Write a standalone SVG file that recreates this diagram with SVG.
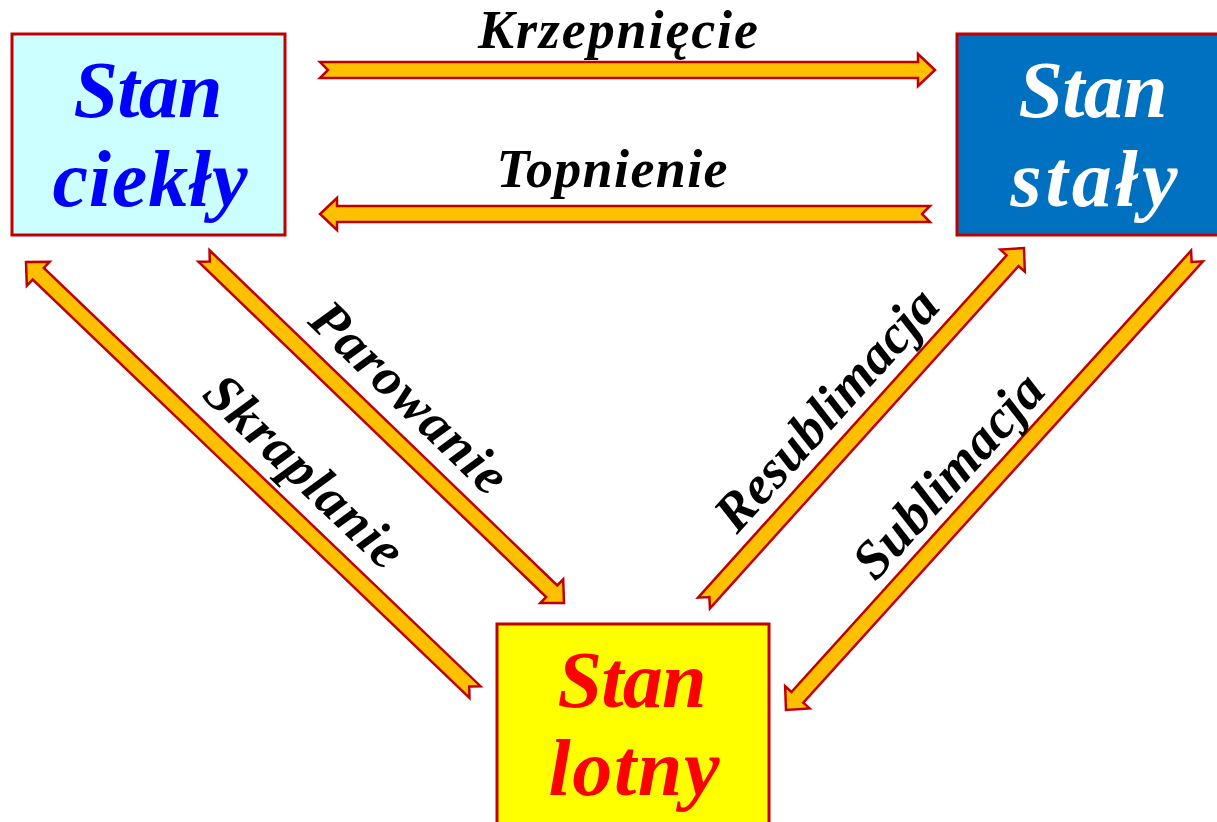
<svg xmlns="http://www.w3.org/2000/svg" width="1217" height="822" viewBox="0 0 1217 822">
<style>
.box{stroke:#C00000;stroke-width:3}
.arr{fill:#FFC000;stroke:#C00000;stroke-width:2.5;stroke-linejoin:miter}
.big{font-family:"Liberation Serif",serif;font-weight:bold;font-style:italic;font-size:80px;text-anchor:middle}
.lbl{font-family:"Liberation Serif",serif;font-weight:bold;font-style:italic;font-size:54px;text-anchor:middle;fill:#000}
</style>
<rect width="1217" height="822" fill="#fff"/>
<g id="connectors">
<polygon class="arr" transform="translate(320,70)" points="0,-8 598,-8 598,-16 615,0 598,16 598,8 0,8 8,0"/>
<polygon class="arr" transform="translate(930,214) rotate(180)" points="0,-8 593,-8 593,-16 610,0 593,16 593,8 0,8 8,0"/>
<polygon class="arr" transform="translate(475,692) rotate(223.76)" points="0,-8 604.7,-8 604.7,-16.5 621.7,0 604.7,16.5 604.7,8 0,8 8,0"/>
<polygon class="arr" transform="translate(204,256) rotate(43.95)" points="0,-8 483,-8 483,-16.5 500,0 483,16.5 483,8 0,8 8,0"/>
<polygon class="arr" transform="translate(704,603) rotate(-47.97)" points="0,-8 460.9,-8 460.9,-16.5 477.9,0 460.9,16.5 460.9,8 0,8 8,0"/>
<polygon class="arr" transform="translate(1197,256) rotate(132.16)" points="0,-8 595.4,-8 595.4,-16.5 612.4,0 595.4,16.5 595.4,8 0,8 8,0"/>
<text class="lbl" x="618" y="48" textLength="280">Krzepnięcie</text>
<text class="lbl" x="612" y="187" textLength="231">Topnienie</text>
<text class="lbl" transform="translate(407,400) rotate(43.95)" x="0" y="14" textLength="252">Parowanie</text>
<text class="lbl" transform="translate(302,474) rotate(43.76)" x="0" y="14" textLength="254">Skraplanie</text>
<text class="lbl" transform="translate(829,412) rotate(-47.97)" x="0" y="14" textLength="306">Resublimacja</text>
<text class="lbl" transform="translate(951,478) rotate(-47.84)" x="0" y="14" textLength="256">Sublimacja</text>
</g>
<g id="liquid">
<rect class="box" x="12" y="34" width="273" height="201" fill="#CCFFFF"/>
<text class="big" x="148" y="117" fill="#0000FF" textLength="149">Stan</text>
<text class="big" x="150" y="206" fill="#0000FF" textLength="195">ciekły</text>
</g>
<g id="solid">
<rect class="box" x="957" y="34" width="280" height="201" fill="#0070C0"/>
<text class="big" x="1093" y="117" fill="#FFFFFF" textLength="149">Stan</text>
<text class="big" x="1094" y="206" fill="#FFFFFF" textLength="167">stały</text>
</g>
<g id="gas">
<rect class="box" x="497" y="624" width="272" height="220" fill="#FFFF00"/>
<text class="big" x="632" y="707" fill="#FF0000" textLength="149">Stan</text>
<text class="big" x="634" y="795" fill="#FF0000" textLength="171">lotny</text>
</g>
</svg>
